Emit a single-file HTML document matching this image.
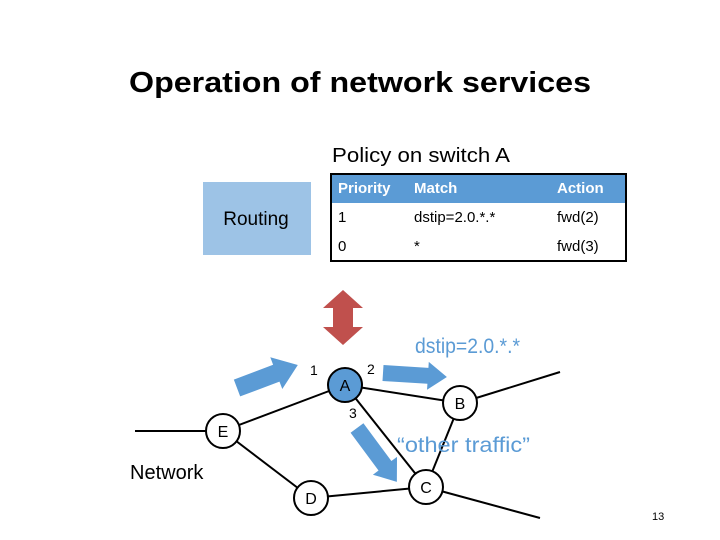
<!DOCTYPE html>
<html><head><meta charset="utf-8"><style>
html,body{margin:0;padding:0;background:#fff;}
svg{display:block;}
text{font-family:"Liberation Sans",sans-serif;}
</style></head><body>
<svg width="720" height="540" viewBox="0 0 720 540" xmlns="http://www.w3.org/2000/svg">
<rect width="720" height="540" fill="#fff"/>
<text x="129" y="92" font-size="29" font-weight="bold" fill="#000" textLength="462" lengthAdjust="spacingAndGlyphs">Operation of network services</text>
<text x="332" y="162" font-size="20" fill="#000" textLength="178" lengthAdjust="spacingAndGlyphs">Policy on switch A</text>
<rect x="203" y="182" width="108" height="73" fill="#9dc3e6"/>
<text x="256" y="225" font-size="19" fill="#000" text-anchor="middle">Routing</text>
<rect x="331" y="174" width="295" height="87" fill="#fff" stroke="#000" stroke-width="2"/>
<rect x="332" y="175" width="293" height="28" fill="#5b9bd5"/>
<g font-size="15" fill="#fff" font-weight="bold">
<text x="338" y="193">Priority</text><text x="414" y="193">Match</text><text x="557" y="193">Action</text>
</g>
<g font-size="15" fill="#000">
<text x="338" y="222">1</text><text x="414" y="222">dstip=2.0.*.*</text><text x="557" y="222">fwd(2)</text>
<text x="338" y="251">0</text><text x="414" y="251">*</text><text x="557" y="251">fwd(3)</text>
</g>
<polygon points="343,290 363,308 353,308 353,327 363,327 343,345 323,327 333,327 333,308 323,308" fill="#c0504d"/>
<g stroke="#000" stroke-width="2" fill="none">
<line x1="135" y1="431" x2="223" y2="431"/>
<line x1="223" y1="431" x2="345" y2="385"/>
<line x1="223" y1="431" x2="311" y2="498"/>
<line x1="345" y1="385" x2="460" y2="403"/>
<line x1="345" y1="385" x2="426" y2="487"/>
<line x1="311" y1="498" x2="426" y2="487"/>
<line x1="460" y1="403" x2="426" y2="487"/>
<line x1="460" y1="403" x2="560" y2="372"/>
<line x1="426" y1="487" x2="540" y2="518"/>
</g>
<g stroke="#000" stroke-width="2">
<circle cx="345" cy="385" r="17" fill="#5b9bd5"/>
<circle cx="460" cy="403" r="17" fill="#fff"/>
<circle cx="223" cy="431" r="17" fill="#fff"/>
<circle cx="311" cy="498" r="17" fill="#fff"/>
<circle cx="426" cy="487" r="17" fill="#fff"/>
</g>
<g font-size="16" fill="#000" text-anchor="middle">
<text x="345" y="391">A</text><text x="460" y="409">B</text><text x="223" y="437">E</text><text x="311" y="504">D</text><text x="426" y="493">C</text>
</g>
<g font-size="14" fill="#000">
<text x="310" y="375">1</text><text x="367" y="374">2</text><text x="349" y="418">3</text>
</g>
<text x="130" y="479" font-size="20" fill="#000">Network</text>
<g fill="#5b9bd5">
<polygon transform="translate(237,388) rotate(-20.7)" points="0,-9 42,-9 42,-17 65,0 42,17 42,9 0,9"/>
<polygon transform="translate(383,373) rotate(3.6)" points="0,-8 45,-8 45,-14 64,0 45,14 45,8 0,8"/>
<polygon transform="translate(357,428) rotate(53.5)" points="0,-8 47,-8 47,-15 67,0 47,15 47,8 0,8"/>
</g>
<text x="415" y="353" font-size="21" fill="#5b9bd5" textLength="105" lengthAdjust="spacingAndGlyphs">dstip=2.0.*.*</text>
<text x="397" y="452" font-size="21" fill="#5b9bd5" textLength="133" lengthAdjust="spacingAndGlyphs">“other traffic”</text>
<text x="652" y="520" font-size="11" fill="#000">13</text>
</svg>
</body></html>
